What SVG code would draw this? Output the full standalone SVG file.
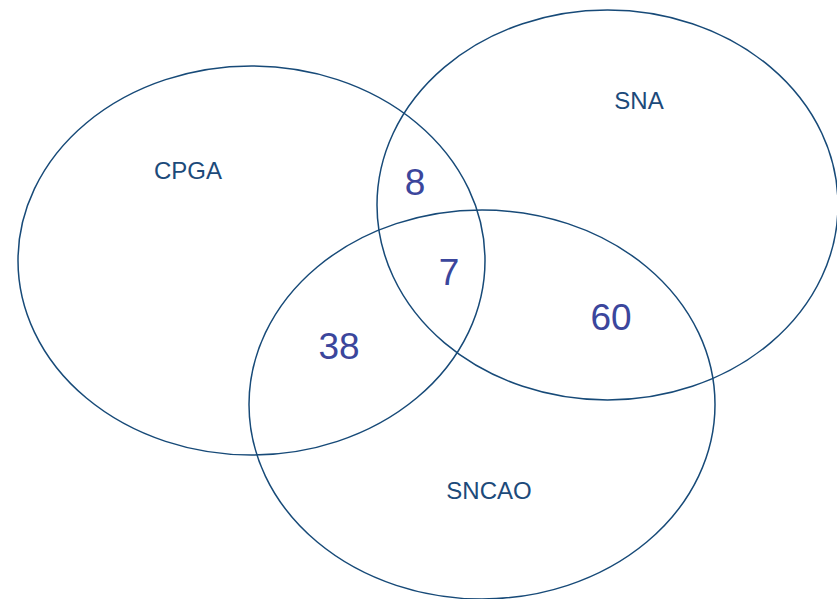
<svg xmlns="http://www.w3.org/2000/svg" width="837" height="599" viewBox="0 0 837 599">
<style>
.c{fill:none;stroke:#174a78;stroke-width:1.5}
.lbl{font-family:"Liberation Sans",Arial,sans-serif;font-size:24px;fill:#1c4a7a;text-anchor:middle}
.num{font-family:"Liberation Sans",Arial,sans-serif;font-size:37px;fill:#3b469c;text-anchor:middle}
</style>
<rect width="837" height="599" fill="#fff"/>
<g id="cpga"><ellipse class="c" cx="251.5" cy="260.5" rx="233.5" ry="194.5"/><text class="lbl" x="188" y="179">CPGA</text></g>
<g id="sna"><ellipse class="c" cx="607.5" cy="205" rx="230.5" ry="195"/><text class="lbl" x="639" y="109">SNA</text></g>
<g id="sncao"><ellipse class="c" cx="482" cy="404.5" rx="233" ry="194.5"/><text class="lbl" x="489" y="499">SNCAO</text></g>
<g id="counts">
<text class="num" x="415" y="195">8</text>
<text class="num" x="449" y="285">7</text>
<text class="num" x="339" y="359">38</text>
<text class="num" x="611" y="330">60</text>
</g>
<g id="connectors"/>
</svg>
